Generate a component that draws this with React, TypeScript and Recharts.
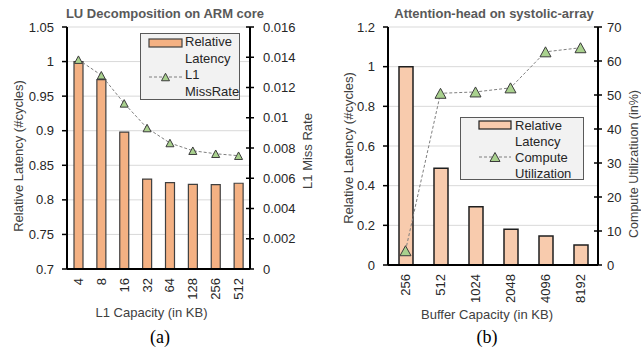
import React from 'react';
import { ComposedChart, Bar, Line, XAxis, YAxis, CartesianGrid, Legend } from 'recharts';

// ---------- Data ----------
const l1Capacities = ['4', '8', '16', '32', '64', '128', '256', '512'];
const luLatency = [1.0, 0.974, 0.898, 0.83, 0.825, 0.8225, 0.822, 0.824];
const luMissRate = [0.01384, 0.01281, 0.01095, 0.00932, 0.00833, 0.00782, 0.00762, 0.00749];
const luLatencyTicks = [0.7, 0.75, 0.8, 0.85, 0.9, 0.95, 1, 1.05];
const luMissTicks = [0, 0.002, 0.004, 0.006, 0.008, 0.01, 0.012, 0.014, 0.016];
const luBoundaryTicks = [0, 1, 2, 3, 4, 5, 6, 7, 8];

const bufferCapacities = ['256', '512', '1024', '2048', '4096', '8192'];
const attLatency = [1.0, 0.4875, 0.294, 0.18, 0.146, 0.101];
const attUtil = [4.2, 50.5, 50.9, 52.1, 62.7, 63.9];
const attLatencyTicks = [0, 0.2, 0.4, 0.6, 0.8, 1, 1.2];
const attUtilTicks = [0, 10, 20, 30, 40, 50, 60, 70];
const attBoundaryTicks = [0, 1, 2, 3, 4, 5, 6];

const luData = l1Capacities.map((c, i) => ({ cap: c, i: i + 0.5, latency: luLatency[i], miss: luMissRate[i] }));
const attData = bufferCapacities.map((c, i) => ({ cap: c, i: i + 0.5, latency: attLatency[i], util: attUtil[i] }));

// ---------- Styles ----------
const FONT = "'Liberation Sans', Arial, sans-serif";
const TXT = '#262626';
const LBL = '#404040';

function RotatedTick(props: any) {
  const { x, y, payload } = props;
  return (
    <text x={x} y={y} transform={`rotate(-90 ${x} ${y})`} textAnchor="end" dy="0.35em"
      fontSize={13} fontFamily={FONT} fill={TXT}>{payload.value}</text>
  );
}

function makeLeftTick(gap: number) {
  return (props: any) => {
    const { x, y, payload } = props;
    return (
      <g>
        <line x1={x - 5} x2={x} y1={y} y2={y} stroke="#000" strokeWidth={1.5} />
        <text x={x - gap} y={y} dy="0.35em" textAnchor="end" fontSize={13} fontFamily={FONT} fill={TXT}>
          {String(payload.value)}
        </text>
      </g>
    );
  };
}

function makeCrossTick(gap: number) {
  return (props: any) => {
    const { x, y, payload } = props;
    return (
      <g>
        <line x1={x - 4} x2={x + 4} y1={y} y2={y} stroke="#000" strokeWidth={1.5} />
        <text x={x + gap} y={y} dy="0.35em" textAnchor="start" fontSize={13} fontFamily={FONT} fill={TXT}>
          {String(payload.value)}
        </text>
      </g>
    );
  };
}

function makeTriangle(w: number, h: number) {
  return (props: any) => {
    const { cx, cy, index } = props;
    if (cx == null || cy == null) return <g key={index} />;
    return (
      <path key={index} d={`M${cx},${cy - h / 2} L${cx + w / 2},${cy + h / 2} L${cx - w / 2},${cy + h / 2} Z`}
        fill="#a9d18e" stroke="#3b3b3b" strokeWidth={1} />
    );
  };
}

function vLabel(text: string, dx: number, dy: number, size = 13) {
  return (props: any) => {
    const vb = props.viewBox || { x: 0, y: 0, width: 0, height: 0 };
    const x = vb.x + dx;
    const y = vb.y + vb.height / 2 + dy;
    return (
      <text x={x} y={y} transform={`rotate(-90 ${x} ${y})`} textAnchor="middle" dominantBaseline="central"
        fontSize={size} fontFamily={FONT} fill={LBL}>{text}</text>
    );
  };
}

function hLabel(text: string, dx: number, dy: number) {
  return (props: any) => {
    const vb = props.viewBox || { x: 0, y: 0, width: 0, height: 0 };
    const x = vb.x + vb.width / 2 + dx;
    const y = vb.y + dy;
    return (
      <text x={x} y={y} textAnchor="middle" dominantBaseline="central"
        fontSize={13} fontFamily={FONT} fill={LBL}>{text}</text>
    );
  };
}

function LegendBox(props: {
  barFill: string; barStroke: string; lines: string[]; swL: number; swW: number; textL: number;
  lineH: number; barY: number; lineY: number; triW: number; triH: number;
}) {
  const { barFill, barStroke, lines, swL, swW, textL, lineH, barY, lineY, triW, triH } = props;
  const triX = swL + swW / 2;
  return (
    <div style={{
      width: '100%', height: '100%', boxSizing: 'border-box', border: '1px solid #595959',
      background: '#f2f2f2', position: 'relative', fontFamily: FONT, fontSize: 13, color: TXT,
    }}>
      <svg width="100%" height="100%" style={{ position: 'absolute', left: 0, top: 0 }}>
        <rect x={swL} y={barY - 4} width={swW} height={8} fill={barFill} stroke={barStroke} strokeWidth={1.2} />
        <line x1={swL} x2={swL + swW} y1={lineY} y2={lineY} stroke="#7f7f7f" strokeDasharray="3 2" />
        <path d={`M${triX},${lineY - triH / 2} L${triX + triW / 2},${lineY + triH / 2} L${triX - triW / 2},${lineY + triH / 2} Z`}
          fill="#a9d18e" stroke="#3b3b3b" strokeWidth={1} />
      </svg>
      <div style={{ position: 'absolute', left: textL, top: 0, lineHeight: `${lineH}px`, whiteSpace: 'nowrap' }}>
        {lines.map((t, k) => <div key={k}>{t}</div>)}
      </div>
    </div>
  );
}

function Overlay({ x, y, text, style }: { x: number; y: number; text: string; style: React.CSSProperties }) {
  return (
    <div style={{ position: 'absolute', left: x, top: y, transform: 'translate(-50%, -50%)', whiteSpace: 'nowrap', ...style }}>
      {text}
    </div>
  );
}

export default function App() {
  const titleStyle: React.CSSProperties = { fontFamily: FONT, fontWeight: 'bold', fontSize: 13, color: '#595959' };
  const capStyle: React.CSSProperties = { fontFamily: "'Liberation Serif', 'Times New Roman', serif", fontSize: 18, color: '#000' };
  return (
    <div style={{ position: 'absolute', left: 0, top: 0, width: 641, height: 351, background: '#fff', overflow: 'hidden' }}>
      {/* Panel (a) */}
      <div style={{ position: 'absolute', left: 0, top: 0 }}>
        <ComposedChart width={320} height={351} data={luData} margin={{ top: 27, right: 0, bottom: 32, left: 0 }}>
          <CartesianGrid xAxisId="n" yAxisId="l" stroke="#d9d9d9" strokeWidth={1} />
          <XAxis xAxisId="n" type="number" dataKey="i" domain={[0, 8]} ticks={luBoundaryTicks} height={0}
            axisLine={false} tick={false} tickLine={{ stroke: '#000', strokeWidth: 1.5 }} tickSize={5} allowDataOverflow />
          <XAxis xAxisId="c" dataKey="cap" height={50} interval={0} tick={<RotatedTick />} tickLine={false}
            tickSize={0} tickMargin={9} axisLine={{ stroke: '#000', strokeWidth: 2 }}
            label={hLabel('L1 Capacity (in KB)', -7, 43)} />
          <YAxis yAxisId="l" width={67} domain={[0.7, 1.05]} ticks={luLatencyTicks} interval={0}
            axisLine={{ stroke: '#000', strokeWidth: 2 }} tickLine={false} tickSize={0} tickMargin={0}
            tick={makeLeftTick(13)} label={vLabel('Relative Latency (#cycles)', 18, 8)} />
          <YAxis yAxisId="r" orientation="right" width={70} domain={[0, 0.016]} ticks={luMissTicks} interval={0}
            axisLine={{ stroke: '#000', strokeWidth: 2 }} tickLine={false} tickSize={0} tickMargin={0}
            tick={makeCrossTick(13)} label={vLabel('L1 Miss Rate', 57, 3)} />
          <Bar xAxisId="c" yAxisId="l" dataKey="latency" barSize={9} fill="#f4b183" stroke="#404040"
            strokeWidth={1.2} isAnimationActive={false} />
          <Line xAxisId="c" yAxisId="r" dataKey="miss" type="linear" stroke="#7f7f7f" strokeWidth={1}
            strokeDasharray="3 2" dot={makeTriangle(8, 7.5)} activeDot={false} isAnimationActive={false} />
          <Legend layout="horizontal" verticalAlign="middle" align="center"
            wrapperStyle={{ position: 'absolute', left: 140, top: 33, width: 100, height: 67 }}
            content={() => (
              <LegendBox barFill="#f4b183" barStroke="#404040" lines={['Relative', 'Latency', 'L1', 'MissRate']}
                swL={8} swW={33} textL={44} lineH={16.7} barY={9} lineY={43} triW={8} triH={7.5} />
            )} />
        </ComposedChart>
      </div>

      {/* Panel (b) */}
      <div style={{ position: 'absolute', left: 320, top: 0 }}>
        <ComposedChart width={321} height={351} data={attData} margin={{ top: 27, right: 0, bottom: 36, left: 0 }}>
          <CartesianGrid xAxisId="n" yAxisId="l" stroke="#d9d9d9" strokeWidth={1} />
          <XAxis xAxisId="n" type="number" dataKey="i" domain={[0, 6]} ticks={attBoundaryTicks} height={0}
            axisLine={false} tick={false} tickLine={{ stroke: '#000', strokeWidth: 1.5 }} tickSize={5} allowDataOverflow />
          <XAxis xAxisId="c" dataKey="cap" height={50} interval={0} tick={<RotatedTick />} tickLine={false}
            tickSize={0} tickMargin={9} axisLine={{ stroke: '#000', strokeWidth: 2 }}
            label={hLabel('Buffer Capacity (in KB)', -6, 49)} />
          <YAxis yAxisId="l" width={68} domain={[0, 1.2]} ticks={attLatencyTicks} interval={0}
            axisLine={{ stroke: '#000', strokeWidth: 2 }} tickLine={false} tickSize={0} tickMargin={0}
            tick={makeLeftTick(13)} label={vLabel('Relative Latency (#cycles)', 28, 2)} />
          <YAxis yAxisId="r" orientation="right" width={43} domain={[0, 70]} ticks={attUtilTicks} interval={0}
            axisLine={{ stroke: '#000', strokeWidth: 2 }} tickLine={false} tickSize={0} tickMargin={0}
            tick={makeCrossTick(9)} label={vLabel('Compute Utilizatiuon (in%)', 36, 18, 12.5)} />
          <Bar xAxisId="c" yAxisId="l" dataKey="latency" barSize={14} fill="#f8cbad" stroke="#1f1f1f"
            strokeWidth={1.5} isAnimationActive={false} />
          <Line xAxisId="c" yAxisId="r" dataKey="util" type="linear" stroke="#7f7f7f" strokeWidth={1}
            strokeDasharray="3 2" dot={makeTriangle(11, 10)} activeDot={false} isAnimationActive={false} />
          <Legend layout="horizontal" verticalAlign="middle" align="center"
            wrapperStyle={{ position: 'absolute', left: 140, top: 117, width: 124, height: 63 }}
            content={() => (
              <LegendBox barFill="#f8cbad" barStroke="#1f1f1f" lines={['Relative', 'Latency', 'Compute', 'Utilization']}
                swL={18} swW={32} textL={54} lineH={16} barY={7} lineY={39} triW={10} triH={9} />
            )} />
        </ComposedChart>
      </div>

      <Overlay x={165} y={12.5} text="LU Decomposition on ARM core" style={titleStyle} />
      <Overlay x={494} y={12.5} text="Attention-head on systolic-array" style={titleStyle} />
      <Overlay x={160} y={337} text="(a)" style={capStyle} />
      <Overlay x={487} y={337} text="(b)" style={capStyle} />
    </div>
  );
}
